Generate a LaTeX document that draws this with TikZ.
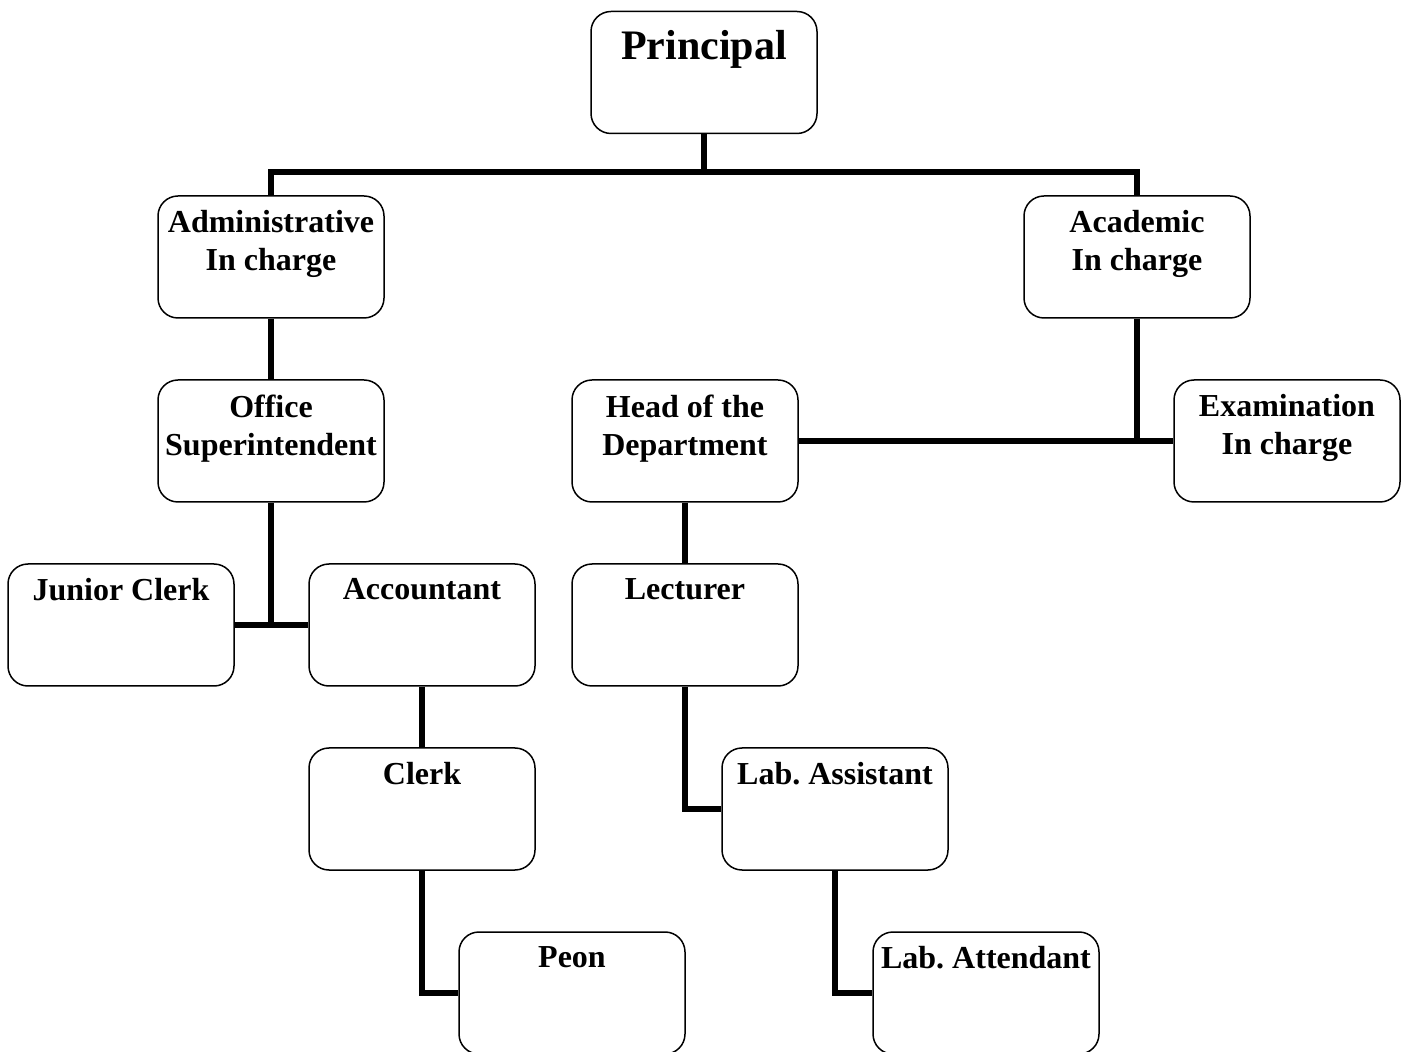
\documentclass[tikz,border=0pt]{standalone}
\usepackage{fontspec}
\setmainfont{Liberation Serif}
\frenchspacing
\tikzset{
	postbox/.style={draw, rounded corners=10pt, line width=0.75pt, fill=white, minimum width=113pt, minimum height=61pt, inner sep=0pt},
	lbl/.style={anchor=north, yshift=-7.5pt, inner sep=0pt, align=center, font=\fontsize{16}{19}\selectfont\bfseries},
	wire/.style={line width=3pt}
}
\begin{document}
\begin{tikzpicture}[x=0.5pt, y=-0.5pt]
			\useasboundingbox (0,0) rectangle (1408,1052);
			%top
			\node[postbox, label={[lbl, yshift=-2pt, font=\fontsize{21}{24}\selectfont\bfseries]north:Principal}] (prin) at (704, 72.5) {};
			\node[postbox, label={[lbl]north:{Administrative\\In charge}}] (adm) at (271, 257) {};
			\node[postbox, label={[lbl]north:{Academic\\In charge}}] (acad) at (1137, 257) {};
			
			%middle
			\node[postbox, label={[lbl]north:{Office\\Superintendent}}] (osup) at (271, 441) {};
			\node[postbox, label={[lbl]north:{Head of the\\Department}}] (hod) at (685, 441) {};
			\node[postbox, label={[lbl]north:{Examination\\In charge}}] (exam) at (1287, 441) {};
			\node[postbox, label={[lbl]north:Junior Clerk}] (jclerk) at (121, 625) {};
			\node[postbox, label={[lbl]north:Accountant}] (acct) at (422, 625) {};
			\node[postbox, label={[lbl]north:Lecturer}] (lect) at (685, 625) {};
			
			%bottom
			\node[postbox, label={[lbl]north:Clerk}] (clerk) at (422, 809) {};
			\node[postbox, label={[lbl]north:Lab. Assistant}] (labas) at (835, 809) {};
			\node[postbox, label={[lbl]north:Peon}] (peon) at (572, 993) {};
			\node[postbox, label={[lbl]north:Lab. Attendant}] (labat) at (986, 993) {};
			
			%links
			\coordinate (bus) at (704, 172);
			\draw[wire] (prin.south) -- (bus);
			\draw[wire] (adm.north) |- (bus) -| (acad.north);
			\draw[wire] (adm.south) -- (osup.north);
			\draw[wire] (acad.south) -- (acad.south |- hod.east);
			\draw[wire] (hod.east) -- (exam.west);
			\draw[wire] (osup.south) -- (osup.south |- jclerk.east);
			\draw[wire] (jclerk.east) -- (acct.west);
			\draw[wire] (acct.south) -- (clerk.north);
			\draw[wire] (clerk.south) |- (peon.west);
			\draw[wire] (hod.south) -- (lect.north);
			\draw[wire] (lect.south) |- (labas.west);
			\draw[wire] (labas.south) |- (labat.west);
		\end{tikzpicture}
\end{document}
